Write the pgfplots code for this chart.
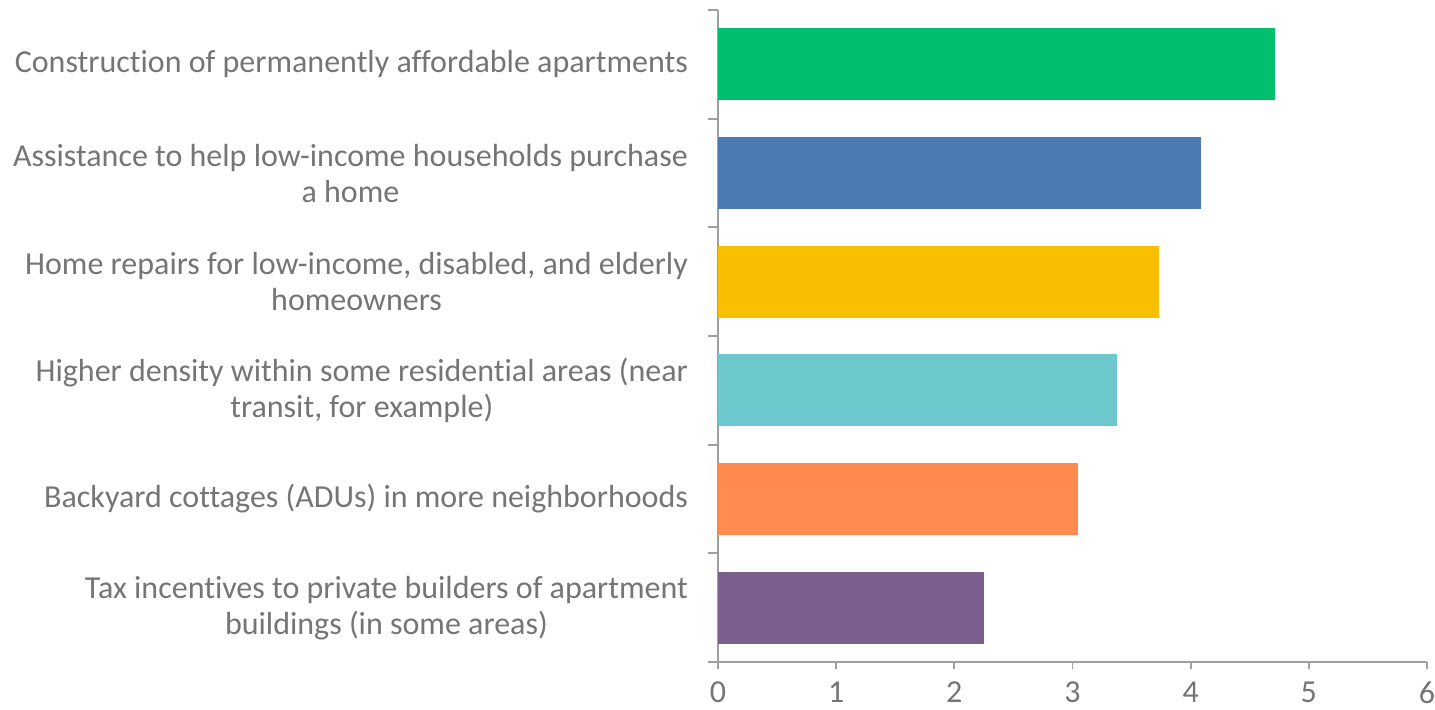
\documentclass[border=0pt]{standalone}
\usepackage{fontspec}
\setmainfont{Carlito}[Ligatures={NoCommon}]
\usepackage{pgfplots}
\pgfplotsset{compat=1.18}

\definecolor{txtgray}{HTML}{757575}
\definecolor{axgray}{HTML}{A0A0A0}
\definecolor{cgreen}{HTML}{00BF6F}
\definecolor{cblue}{HTML}{4E7AB4}
\definecolor{cyellow}{HTML}{F8BF00}
\definecolor{cteal}{HTML}{6CC8CC}
\definecolor{corange}{HTML}{FF8B50}
\definecolor{cpurple}{HTML}{7B5F8E}

\begin{document}
\begin{tikzpicture}
\begin{axis}[
    at={(0,0)}, anchor=south west,
    scale only axis,
    width=354.5pt, height=326pt,
    xbar, bar shift=0pt, bar width=0.66,
    xmin=0, xmax=6,
    ymin=-0.5, ymax=5.5,
    axis x line*=bottom, axis y line*=left,
    axis line style={-, draw=axgray, line width=0.9pt},
    xtick={0,...,6},
    ytick={0,...,5},
    minor ytick={-0.5,0.5,...,5.5},
    yticklabels={
      {Tax incentives to private builders of apartment\\buildings (in some areas)},
      {Backyard cottages (ADUs) in more neighborhoods},
      {Higher density within some residential areas (near\\transit, for example)},
      {Home repairs for low-income, disabled, and elderly\\homeowners},
      {Assistance to help low-income households purchase\\a home},
      {Construction of permanently affordable apartments}},
    tick align=outside,
    major y tick style={draw=none},
    minor y tick style={draw=axgray, line width=0.9pt},
    major x tick style={draw=axgray, line width=0.9pt},
    minor tick length=5pt,
    major tick length=3.5pt,
    yticklabel style={align=center, font=\fontsize{16}{18}\selectfont, text=txtgray, xshift=-8pt},
    xticklabel style={font=\fontsize{16}{18}\selectfont, text=txtgray, yshift=-3pt},
    /pgf/number format/assume math mode=true,
    clip=false,
]
\addplot[fill=cpurple, draw=none] coordinates {(2.25,0)};
\addplot[fill=corange, draw=none] coordinates {(3.05,1)};
\addplot[fill=cteal, draw=none] coordinates {(3.38,2)};
\addplot[fill=cyellow, draw=none] coordinates {(3.73,3)};
\addplot[fill=cblue, draw=none] coordinates {(4.09,4)};
\addplot[fill=cgreen, draw=none] coordinates {(4.71,5)};
\end{axis}
\pgfresetboundingbox
\path[use as bounding box] (-359pt,-23.5pt) rectangle (358.5pt,331pt);
\end{tikzpicture}
\end{document}
